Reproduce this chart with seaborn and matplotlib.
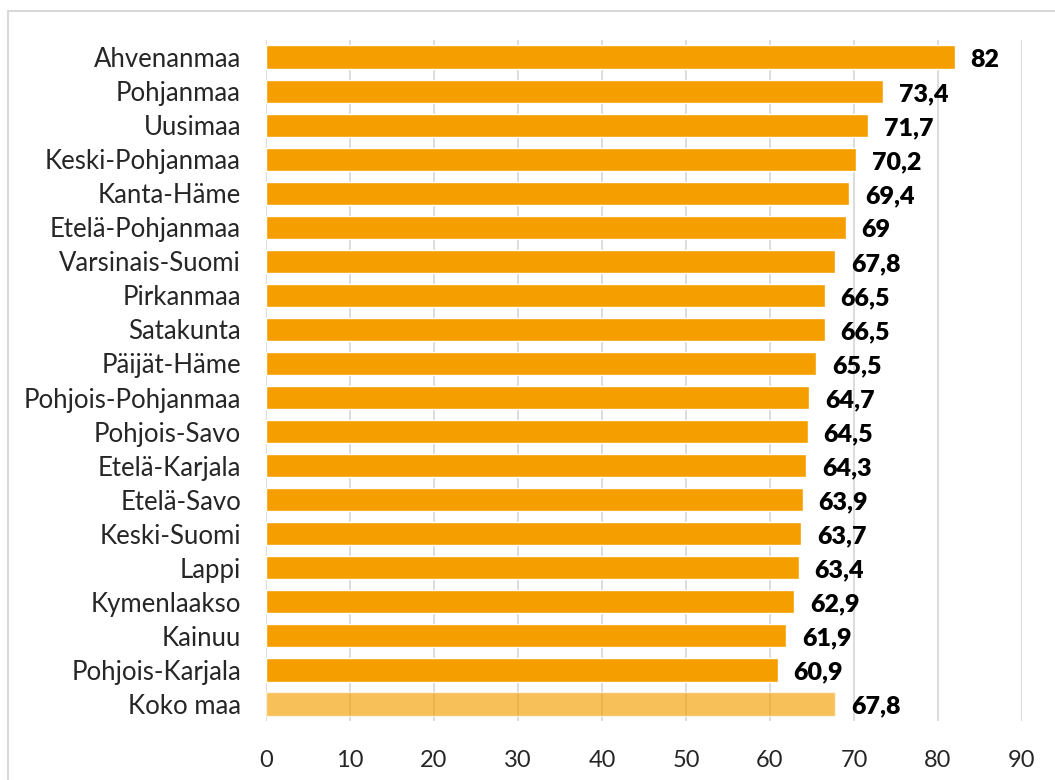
import matplotlib
matplotlib.use("Agg")
import matplotlib.pyplot as plt
import pandas as pd
import seaborn as sns
from matplotlib.patches import Rectangle

# Chart data
regions = [
    "Ahvenanmaa", "Pohjanmaa", "Uusimaa", "Keski-Pohjanmaa", "Kanta-Häme",
    "Etelä-Pohjanmaa", "Varsinais-Suomi", "Pirkanmaa", "Satakunta", "Päijät-Häme",
    "Pohjois-Pohjanmaa", "Pohjois-Savo", "Etelä-Karjala", "Etelä-Savo",
    "Keski-Suomi", "Lappi", "Kymenlaakso", "Kainuu", "Pohjois-Karjala", "Koko maa",
]
values = [82, 73.4, 71.7, 70.2, 69.4, 69, 67.8, 66.5, 66.5, 65.5,
          64.7, 64.5, 64.3, 63.9, 63.7, 63.4, 62.9, 61.9, 60.9, 67.8]
x_ticks = [0, 10, 20, 30, 40, 50, 60, 70, 80, 90]

BAR_COLOR = "#F59E00"

df = pd.DataFrame({"region": regions, "value": values})

sns.set_theme(style="white")
plt.rcParams["font.family"] = ["Lato", "DejaVu Sans"]

fig = plt.figure(figsize=(10.55, 7.8), dpi=100)
ax = fig.add_axes([0.2521, 0.0756, 0.7166, 0.8731])

sns.barplot(data=df, x="value", y="region", color=BAR_COLOR,
            width=0.68, ax=ax, saturation=1, zorder=2)
# the "Koko maa" bar is a translucent version of the same colour
ax.patches[-1].set_alpha(0.65)
ax.patches[-1].set_zorder(3)

for i, v in enumerate(values):
    label = f"{v:g}".replace(".", ",")
    ax.annotate(label, xy=(v, i), xytext=(11.5, -2), textcoords="offset points",
                ha="left", va="center", fontsize=18, fontweight="heavy",
                color="black")

ax.set_xlim(0, 90)
ax.set_ylim(len(regions) - 0.5, -0.5)
ax.set_xticks(x_ticks)
ax.set_xticklabels([str(t) for t in x_ticks], fontsize=17)
ax.tick_params(axis="y", labelsize=18.5, length=0, pad=18)
ax.tick_params(axis="x", length=0, pad=21)
ax.set_xlabel("")
ax.set_ylabel("")
ax.xaxis.grid(True, color="#D9D9D9", linewidth=1.3, zorder=0)
ax.set_axisbelow(True)
for s in ax.spines.values():
    s.set_visible(False)

# outer frame
fig.patches.append(Rectangle((8 / 1055, -0.05), 1.1, 1 - 11 / 780 + 0.05,
                             transform=fig.transFigure, fill=False,
                             edgecolor="#D9D9D9", linewidth=1.5))

fig.savefig("out.png", dpi=100)
